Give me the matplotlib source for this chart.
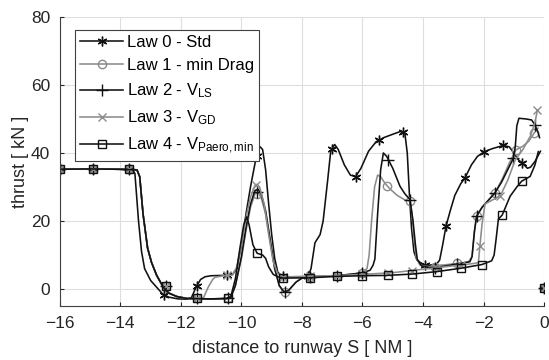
import matplotlib.pyplot as plt
from matplotlib.lines import Line2D

plt.rcParams['font.family'] = ['Liberation Sans', 'DejaVu Sans']
plt.rcParams['mathtext.fontset'] = 'custom'
plt.rcParams['mathtext.rm'] = 'Liberation Sans'
plt.rcParams['mathtext.default'] = 'regular'

# ---- data (S in NM, thrust in kN) ----
labels = ['Law 0 - Std', 'Law 1 - min Drag', 'Law 2 - V$_{LS}$',
          'Law 3 - V$_{GD}$', 'Law 4 - V$_{Paero,min}$']

# Law 0 - Std
s0 = [-16, -15, -14, -13.6, -13.52, -13.4, -13.3, -13.2, -13.0, -12.8, -12.6, -12.4, -12.1, -11.8,
      -11.65, -11.5, -11.35, -11.2, -11.0, -10.6, -10.3, -10.15, -10.0, -9.85, -9.7, -9.55, -9.45,
      -9.38, -9.3, -9.2, -9.1, -9.0, -8.9, -8.8, -8.7, -8.5, -8.0, -7.8, -7.7, -7.57, -7.4, -7.3,
      -7.15, -7.05, -6.92, -6.8, -6.6, -6.4, -6.23, -6.05, -5.8, -5.55, -5.3, -5.0, -4.75, -4.6,
      -4.52, -4.45, -4.38, -4.3, -4.2, -4.0, -3.8, -3.55, -3.45, -3.35, -3.24, -3.1, -2.95, -2.75,
      -2.61, -2.4, -2.2, -1.97, -1.7, -1.35, -1.15, -1.0, -0.85, -0.72, -0.55, -0.45, -0.3, -0.12]
t0 = [35.2, 35.3, 35.2, 35.0, 34, 20, 11, 6, 2.5, 0.5, -1.5, -2.4, -2.9, -3.0,
      -2.5, 0.5, 2.8, 3.6, 3.9, 4.0, 4.2, 6, 13, 22, 30, 37, 41,
      41.8, 41, 35, 25, 16, 9, 5, 4, 3.6, 3.6, 3.7, 6, 13.6, 16, 20,
      32, 40.5, 42.5, 41, 36.5, 33.5, 33, 35.5, 40.5, 43.3, 44.5, 45.5, 46.3, 45.8,
      40, 28, 18, 11, 8.5, 7.2, 7.0, 7.3, 8.5, 13, 18.5, 23, 27.5, 31,
      32.7, 36.5, 39, 40.4, 41.3, 42.2, 41.8, 40, 38, 37, 35.5, 35.8, 37.5, 40.5]
m0_s = [-16, -14.9, -13.7, -12.56, -11.48, -10.49, -9.5, -8.64, -7.79, -7.02, -6.23, -5.45,
        -4.65, -3.93, -3.24, -2.61, -1.97, -1.35, -0.72, 0]
m0_t = [35.2, 35.3, 35.2, -1.8, 1.0, 4.0, 39, 3.7, 3.7, 41.1, 33, 43.9,
        46.1, 7.0, 18.5, 32.7, 40.4, 42.2, 37.0, 0.2]

# Law 1 - min Drag
s1 = [-16, -15, -14, -13.45, -13.36, -13.25, -13.1, -12.97, -12.8, -12.58, -12.4, -12.14, -11.8,
      -11.0, -10.5, -10.35, -10.2, -10.0, -9.85, -9.7, -9.55, -9.45, -9.35, -9.2, -9.05, -8.9,
      -8.75, -8.6, -8.45, -8.2, -8.0, -7.7, -6.85, -6.03, -5.85, -5.78, -5.7, -5.6, -5.5, -5.4,
      -5.25, -5.1, -4.85, -4.6, -4.43, -4.36, -4.3, -4.22, -4.1, -3.8, -3.6, -2.87, -2.5, -2.38,
      -2.3, -2.23, -2.05, -1.8, -1.62, -1.4, -1.15, -0.93, -0.7, -0.5, -0.33, -0.2]
t1 = [35.2, 35.3, 35.2, 35.0, 33, 22, 12, 7.8, 4, 0.5, -1.2, -2.2, -2.8,
      -2.9, -2.8, -2.5, 1, 9, 17, 24, 28, 28.3, 27, 22, 14, 6,
      1, -0.8, -0.5, 2, 3.2, 3.6, 3.9, 4.7, 6, 10, 20, 30, 33.5, 33,
      31, 29.5, 27.5, 26.2, 25.8, 22, 15, 9, 7, 6.5, 6.8, 7.5, 8, 9.5,
      17, 21.4, 24, 26.5, 28.3, 32, 37, 40.9, 42, 43.5, 45.8, 47.3]
m1_s = [-16, -14.9, -13.7, -12.5, -11.48, -10.43, -9.48, -8.56, -7.74, -6.85, -6.03, -5.18,
        -4.43, -3.6, -2.87, -2.23, -1.62, -0.93, -0.33, 0]
m1_t = [35.2, 35.3, 35.2, 0.9, -2.7, -2.6, 28, -1.0, 3.4, 3.8, 4.7, 30.2,
        25.8, 6.6, 7.5, 21.4, 28.3, 40.9, 45.8, 0.2]

# Law 2 - V_LS
s2 = [-16, -15, -14, -13.45, -13.36, -13.25, -13.1, -12.97, -12.8, -12.58, -12.4, -12.14, -11.8,
      -11.0, -10.5, -10.35, -10.2, -10.0, -9.85, -9.7, -9.55, -9.45, -9.35, -9.2, -9.05, -8.9,
      -8.75, -8.6, -8.45, -8.2, -8.0, -7.7, -6.85, -6.03, -5.75, -5.65, -5.59, -5.5, -5.4, -5.31,
      -5.2, -5.0, -4.76, -4.6, -4.43, -4.33, -4.25, -4.19, -4.05, -3.8, -3.6, -2.87, -2.45, -2.38,
      -2.3, -2.23, -2.05, -1.8, -1.62, -1.4, -1.15, -1.01, -0.95, -0.9, -0.83, -0.6, -0.41, -0.3,
      -0.19, -0.15]
t2 = [35.2, 35.3, 35.2, 35.0, 33, 22, 12, 7.8, 4, 0.5, -1.2, -2.2, -2.8,
      -2.9, -2.8, -2.5, 1, 9.5, 18, 25, 29, 29.3, 28, 23, 14.5, 6,
      1, -0.8, -0.5, 2, 3.2, 3.6, 3.9, 4.7, 5.5, 7, 8.8, 22, 35, 40,
      39, 35.5, 30.2, 28, 26.3, 20, 13, 8.8, 6.8, 6.3, 6.3, 7.3, 8.0, 9.5,
      17, 21.4, 24, 26.5, 28.3, 31.5, 36, 38.5, 42, 48, 50.2, 50, 49.7, 48.2,
      45.8, 44.5]
m2_s = [-16, -14.9, -13.7, -12.5, -11.48, -10.43, -9.5, -8.56, -7.74, -6.85, -6.03, -5.15,
        -4.43, -3.6, -2.87, -2.23, -1.62, -1.01, -0.3, 0]
m2_t = [35.2, 35.3, 35.2, 0.9, -2.7, -2.6, 28.5, -1.0, 3.4, 3.8, 4.7, 38,
        26.3, 6.3, 7.3, 21.4, 28.3, 38.5, 48.2, 0.2]

# Law 3 - V_GD
s3 = [-16, -15, -14, -13.45, -13.36, -13.25, -13.1, -12.97, -12.8, -12.58, -12.4, -12.14, -11.8,
      -11.4, -11.26, -11.1, -10.95, -10.88, -10.6, -10.3, -10.15, -10.0, -9.85, -9.7, -9.55, -9.48,
      -9.4, -9.25, -9.1, -8.95, -8.8, -8.62, -8.0, -7.0, -6.0, -5.0, -4.0, -3.0, -2.5, -2.25, -2.17,
      -2.12, -2.05, -1.95, -1.7, -1.45, -1.2, -0.95, -0.7, -0.45, -0.3, -0.22]
t3 = [35.2, 35.3, 35.2, 35.0, 33, 22, 12, 7.8, 4, 0.5, -1.2, -2.2, -2.8,
      -2.9, -2.7, 0.5, 2.8, 3.4, 3.9, 4.1, 6.5, 13, 21, 27, 30.5, 30.8,
      30, 25, 16, 8, 4.5, 3.5, 3.7, 3.9, 4.3, 4.8, 5.8, 6.8, 7.3, 7.6, 7.8,
      12.7, 19, 25, 26.2, 27.3, 32, 38, 41, 45, 49, 52.6]
m3_s = [-16, -14.9, -13.7, -12.5, -11.48, -10.49, -9.53, -8.62, -7.74, -6.85, -6.03, -5.17,
        -4.35, -3.55, -2.75, -2.12, -1.45, -0.22, 0]
m3_t = [35.2, 35.3, 35.2, 0.9, -2.7, 4.0, 30.7, 3.5, 3.7, 3.9, 4.3, 4.8,
        5.4, 6.2, 7.0, 12.7, 27.3, 52.6, 0.2]

# Law 4 - V_Paero,min
s4 = [-16, -15, -14, -13.45, -13.36, -13.25, -13.1, -12.97, -12.8, -12.58, -12.4, -12.14, -11.8,
      -11.0, -10.5, -10.35, -10.2, -10.05, -9.92, -9.83, -9.75, -9.62, -9.48, -9.3, -9.2, -9.1,
      -8.95, -8.8, -8.62, -7.74, -6.85, -6.03, -5.17, -4.35, -3.55, -2.75, -2.05, -1.73, -1.65,
      -1.58, -1.51, -1.38, -1.12, -0.9, -0.74, -0.46, -0.3, -0.19]
t4 = [35.2, 35.3, 35.2, 35.0, 33, 22, 12, 7.8, 4, 0.5, -1.2, -2.2, -2.8,
      -2.9, -2.8, -2.2, 3, 12, 19, 21.2, 19, 13, 10.5, 10, 9, 6.5,
      4.3, 3.6, 3.2, 3.3, 3.7, 3.9, 4.0, 4.4, 5.1, 6.1, 7.2, 8.3, 10,
      15, 20.5, 21.8, 27.3, 30, 31.7, 33.1, 36.5, 40.4]
m4_s = [-16, -14.9, -13.7, -12.5, -11.48, -10.43, -9.48, -8.62, -7.74, -6.85, -6.03, -5.17,
        -4.35, -3.55, -2.75, -2.05, -1.38, -0.74, 0]
m4_t = [35.2, 35.3, 35.2, 0.9, -2.7, -2.6, 10.5, 3.2, 3.3, 3.7, 3.9, 4.0,
        4.4, 5.1, 6.1, 7.2, 21.8, 31.7, 0.2]

black = '#111111'
gray = '#8c8c8c'
asterisk = (6, 2, 0)
series = [
    (s0, t0, m0_s, m0_t, black, asterisk, 7),
    (s1, t1, m1_s, m1_t, gray, 'o', 6),
    (s2, t2, m2_s, m2_t, black, '+', 8),
    (s3, t3, m3_s, m3_t, gray, 'x', 6),
    (s4, t4, m4_s, m4_t, black, 's', 6),
]

fig = plt.figure(figsize=(5.49, 3.6), dpi=100)
ax = fig.add_axes([0.109, 0.15, 0.882, 0.803])

handles = []
for (s, t, ms, mt, c, mk, sz), lab in zip(series, labels):
    ax.plot(s, t, color=c, lw=1.15)
    ax.plot(ms, mt, ls='none', marker=mk, ms=sz, mfc='none', mec=c, mew=1.0)
    handles.append(Line2D([], [], color=c, lw=1.15, marker=mk, ms=sz, mfc='none',
                          mec=c, mew=1.0, label=lab))

ax.set_xlim(-16, 0)
ax.set_ylim(-5, 80)
ax.set_xticks(range(-16, 1, 2))
ax.set_yticks([0, 20, 40, 60, 80])
ax.grid(True, color='#dedede', lw=0.8)
ax.set_axisbelow(True)
for side in ['top', 'right']:
    ax.spines[side].set_visible(False)
for side in ['left', 'bottom']:
    ax.spines[side].set_color('#404040')
    ax.spines[side].set_linewidth(0.8)
ax.tick_params(direction='in', length=3, labelsize=12.5, colors='#262626', pad=7)
ax.set_xlabel('distance to runway S [ NM ]', fontsize=13, color='#262626', labelpad=7)
ax.set_ylabel('thrust [ kN ]', fontsize=13, color='#262626', labelpad=1)

leg = ax.legend(handles=handles, loc='upper left', bbox_to_anchor=(0.031, 0.955),
                fontsize=12, handlelength=2.6, handletextpad=0.25, labelspacing=0.5,
                borderpad=0.3, fancybox=False, framealpha=1, edgecolor='#404040',
                borderaxespad=0)
leg.get_frame().set_linewidth(0.8)

fig.savefig('out.png', dpi=100)
